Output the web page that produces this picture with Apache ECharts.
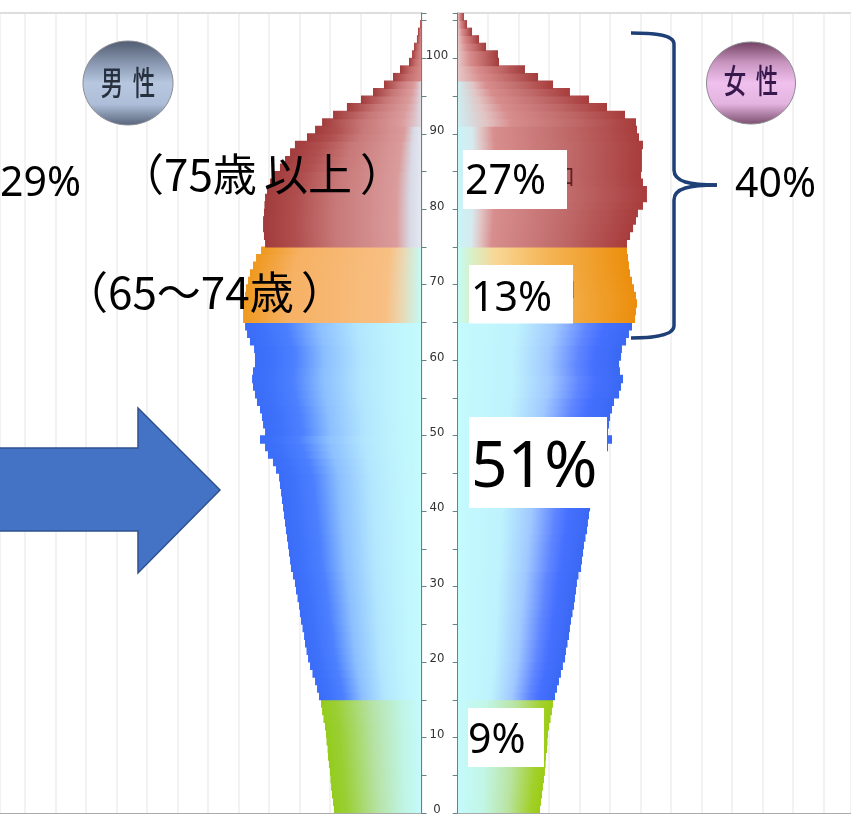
<!DOCTYPE html>
<html lang="ja">
<head>
<meta charset="utf-8">
<title>年齢別人口ピラミッド</title>
<script src="https://cdn.jsdelivr.net/npm/echarts@6/dist/echarts.min.js"></script>
<style>
  html, body { margin: 0; padding: 0; background: #fff; }
  #chart { width: 851px; height: 814px; }
</style>
</head>
<body>
<div id="chart"></div>
<script>
// Population by single year of age, 0 to 105 (index = age).
const male = [
  57.4, 58.0, 58.7, 59.3, 59.7, 60.0, 60.7, 61.3, 61.6, 62.3,
  62.6, 63.3, 64.3, 65.2, 65.9, 67.2, 68.5, 69.8, 71.5, 73.1,
  74.4, 75.4, 76.4, 77.0, 78.0, 79.0, 79.7, 80.3, 81.3, 82.3,
  83.0, 84.3, 85.6, 86.2, 86.9, 87.5, 88.2, 88.9, 89.5, 90.2,
  90.8, 91.5, 92.1, 92.8, 93.4, 95.4, 97.4, 100.7, 102.6, 105.9,
  102.6, 103.9, 104.6, 105.9, 107.9, 109.2, 110.5, 111.1, 110.5, 109.2,
  109.2, 109.8, 112.5, 114.4, 115.7, 117.0, 117.0, 116.4, 115.7, 115.1,
  113.8, 112.5, 110.5, 108.5, 105.2, 102.6, 103.3, 103.9, 103.9, 103.3,
  103.0, 102.6, 101.3, 99.3, 97.4, 92.8, 89.5, 86.2, 83.0, 75.1,
  69.8, 65.2, 58.0, 48.9, 39.7, 31.8, 24.6, 18.7, 14.1, 8.2,
  6.2, 4.9, 3.0, 2.3, 1.0, 0.3
];
const female = [
  54.0, 54.6, 55.3, 55.9, 56.6, 57.2, 57.6, 57.9, 58.6, 58.9,
  59.2, 59.9, 60.9, 61.8, 62.5, 63.8, 65.1, 66.4, 67.7, 69.0,
  70.4, 71.0, 72.0, 73.0, 73.6, 74.3, 75.3, 76.3, 76.9, 77.6,
  78.2, 79.2, 80.9, 81.5, 82.2, 82.8, 83.8, 84.8, 85.4, 86.1,
  86.8, 87.4, 88.7, 90.0, 91.3, 93.3, 95.3, 97.2, 98.6, 101.2,
  98.6, 99.2, 99.9, 101.2, 102.5, 105.8, 107.1, 108.4, 106.4, 105.8,
  107.1, 107.7, 110.4, 112.3, 114.3, 116.3, 116.9, 117.6, 116.9, 115.6,
  114.3, 113.0, 112.3, 111.7, 111.0, 111.0, 113.0, 115.0, 116.9, 118.2,
  121.5, 124.1, 124.1, 121.5, 120.2, 120.8, 120.8, 120.8, 121.5, 118.9,
  117.6, 116.9, 109.7, 97.9, 86.1, 73.6, 62.5, 52.7, 44.1, 27.1,
  26.4, 18.6, 14.0, 9.4, 6.1, 4.1
];
const ages = male.map((_, age) => String(age));

// Colour stops run from the axis side (offset 0) to the tip of each bar.
const maleStops = {
  child:  [[0, '#C4FAFC'], [0.2, '#C0F4E4'], [0.5, '#B6E2A4'], [0.85, '#9ACF34'], [1, '#94CC1C']],
  worker: [[0, '#C4FBFD'], [0.18, '#BEF3FD'], [0.36, '#B2E6FE'], [0.58, '#8CBFFF'], [0.76, '#4C80FF'], [0.9, '#3F72FB'], [1, '#3A6CF8']],
  young:  [[0, '#C4FBF6'], [0.12, '#ECD5AE'], [0.2, '#F8BF83'], [0.75, '#F6B164'], [1, '#EF981E']],
  old:    [[0, '#E4E8F2'], [0.07, '#D8DBE6'], [0.16, '#DB9C9C'], [0.55, '#C87878'], [0.8, '#B04E4E'], [1, '#A23C3C']],
  upper:  [[0, '#DDDDE6'], [0.1, '#DDB8BE'], [0.2, '#DB9C9C'], [0.6, '#C77676'], [1, '#A23C3C']],
  tip:    [[0, '#D88C8C'], [0.5, '#C46C6C'], [1, '#A23C3C']]
};
const femaleStops = {
  child:  [[0, '#C4FAFC'], [0.3, '#C2F6E6'], [0.6, '#BAE4A4'], [0.88, '#A2D02C'], [1, '#9CCC14']],
  worker: [[0, '#C4FBFD'], [0.34, '#BEF2FD'], [0.56, '#A0C8FF'], [0.74, '#5F85FF'], [0.84, '#4570FF'], [1, '#3A68F2']],
  young:  [[0, '#C4FBF6'], [0.08, '#D8F0C8'], [0.22, '#F8D796'], [0.5, '#F5B75A'], [1, '#EC8E0C']],
  old:    [[0, '#C8F4F8'], [0.08, '#D6EAEE'], [0.13, '#E2C4C4'], [0.2, '#D88E8E'], [0.6, '#C06A6A'], [1, '#A83C3C']],
  upper:  [[0, '#CDEEF2'], [0.16, '#E2C4C4'], [0.3, '#D88E8E'], [0.65, '#C06A6A'], [1, '#A83C3C']],
  tip:    [[0, '#E6C8C8'], [0.3, '#D88C8C'], [0.6, '#C46C6C'], [1, '#A23C3C']]
};

function ageGroup(age) {
  if (age < 15) return 'child';
  if (age < 65) return 'worker';
  if (age < 75) return 'young';
  if (age < 91) return 'old';
  if (age < 97) return 'upper';
  return 'tip';
}

// startX/endX point the gradient from the central axis towards the bar's tip.
function barData(values, palette, startX, endX) {
  return values.map((value, age) => ({
    value,
    itemStyle: {
      color: {
        type: 'linear', x: startX, y: 0, x2: endX, y2: 0,
        colorStops: palette[ageGroup(age)].map(([offset, color]) => ({ offset, color }))
      }
    }
  }));
}

const BLACK_FONT = '"Noto Sans", "Open Sans", sans-serif';
const CJK_FONT = '"Noto Sans CJK JP", sans-serif';

function whiteBox(x, y, w, h, z) {
  return { type: 'rect', z, shape: { x, y, width: w, height: h }, style: { fill: '#fff' } };
}
function label(text, x, y, size, z, family) {
  return {
    type: 'text', z, x, y,
    style: { text, fill: '#000', font: `${size}px ${family || BLACK_FONT}`, verticalAlign: 'bottom' }
  };
}
function badgeGlyph(text, cx, cy, fill) {
  return {
    type: 'text', z: 102, x: cx, y: cy, scaleX: 0.68,
    style: { text, fill, font: `500 33px ${CJK_FONT}`, align: 'center', verticalAlign: 'middle' }
  };
}
function badge(cx, cy, rx, ry, stops) {
  return {
    type: 'ellipse', z: 101,
    shape: { cx, cy, rx, ry },
    style: {
      stroke: '#8B8B93', lineWidth: 1,
      fill: {
        type: 'linear', x: 0, y: 0, x2: 0, y2: 1,
        colorStops: stops.map((color, i) => ({ offset: i / (stops.length - 1), color }))
      }
    }
  };
}
const braceStyle = { stroke: '#1F3F77', lineWidth: 3.5, fill: 'none' };
function braceCurve(x1, y1, cpx1, cpy1, cpx2, cpy2, x2, y2) {
  return { type: 'bezierCurve', z: 101, shape: { x1, y1, cpx1, cpy1, cpx2, cpy2, x2, y2 }, style: braceStyle };
}
function braceLine(x1, y1, x2, y2) {
  return { type: 'line', z: 101, shape: { x1, y1, x2, y2 }, style: braceStyle };
}

const rowTickColor = '#5F8585';
const gridLines = { show: true, lineStyle: { color: '#F2F2F2', width: 2 } };
const option = {
  animation: false,
  backgroundColor: '#fff',
  grid: [
    { left: 0, width: 421.5, top: 13, height: 800, outerBoundsMode: 'none' },
    { left: 457.7, width: 393.3, top: 13, height: 800, outerBoundsMode: 'none' }
  ],
  xAxis: [
    { type: 'value', gridIndex: 0, inverse: true, min: 0, max: 276.4, interval: 20, position: 'bottom',
      axisLine: { show: true, onZero: false, lineStyle: { color: '#AAAAAA' } }, axisTick: { show: false },
      axisLabel: { show: false }, splitLine: gridLines },
    { type: 'value', gridIndex: 1, min: 0, max: 257.9, interval: 20, position: 'bottom',
      axisLine: { show: true, onZero: false, lineStyle: { color: '#AAAAAA' } }, axisTick: { show: false },
      axisLabel: { show: false }, splitLine: gridLines },
    { type: 'value', gridIndex: 0, inverse: true, min: 0, max: 276.4, position: 'top',
      axisLine: { show: true, onZero: false, lineStyle: { color: '#DDDDDD', width: 2 } },
      axisTick: { show: false }, axisLabel: { show: false }, splitLine: { show: false } },
    { type: 'value', gridIndex: 1, min: 0, max: 257.9, position: 'top',
      axisLine: { show: true, onZero: false, lineStyle: { color: '#DDDDDD', width: 2 } },
      axisTick: { show: false }, axisLabel: { show: false }, splitLine: { show: false } }
  ],
  yAxis: [
    // Hidden age bands that carry the bars
    { type: 'category', gridIndex: 0, data: ages, position: 'right', show: false },
    { type: 'category', gridIndex: 1, data: ages, position: 'left', show: false },
    // Visible age scale running down the centre
    { type: 'value', gridIndex: 0, position: 'right', min: 0, max: 106, interval: 5,
      axisLine: { show: true, onZero: false, lineStyle: { color: rowTickColor } },
      axisTick: { show: true, length: 5, lineStyle: { color: rowTickColor } },
      axisLabel: { show: false }, splitLine: { show: false }, z: 5 },
    { type: 'value', gridIndex: 1, position: 'left', min: 0, max: 106, interval: 5,
      axisLine: { show: true, onZero: false, lineStyle: { color: rowTickColor } },
      axisTick: { show: true, length: 5, lineStyle: { color: rowTickColor } },
      axisLabel: {
        margin: 20.7, align: 'center', verticalAlign: 'bottom', lineHeight: 12, padding: [0, 0, -3, 0],
        color: '#333', fontFamily: '"Liberation Sans Narrow", "DejaVu Sans Condensed", sans-serif', fontSize: 13,
        formatter: v => (v % 10 === 0 ? String(v) : '')
      },
      splitLine: { show: false }, z: 5 }
  ],
  series: [
    // Bars are a little wider than their age band so neighbouring ages close up without hairlines
    { name: '男性', type: 'bar', xAxisIndex: 0, yAxisIndex: 0, barWidth: 8.5, barGap: 0,
      data: barData(male, maleStops, 1, 0) },
    { name: '女性', type: 'bar', xAxisIndex: 1, yAxisIndex: 1, barWidth: 8.5, barGap: 0,
      data: barData(female, femaleStops, 0, 1) }
  ],
  graphic: { elements: [
    // Leftovers of small captions peeking out from behind the white boxes
    { type: 'text', z: 99, x: 553, y: 165, style: { text: '口', fill: '#5E1F1F', font: `22px ${CJK_FONT}` } },
    { type: 'text', z: 99, x: 555, y: 278, style: { text: '口', fill: '#6E3A10', font: `21px ${CJK_FONT}` } },

    whiteBox(463, 150, 104, 59, 100),
    whiteBox(469, 265, 104, 58.5, 100),
    whiteBox(469, 417, 138, 91, 100),
    whiteBox(468, 708, 76, 59, 100),

    label('27%', 465, 203, 41, 101),
    label('13%', 471, 320, 41, 101),
    label('51%', 471, 501, 64, 101),
    label('9%', 468, 762, 41, 101),
    label('29%', 0, 205, 41, 101),
    label('40%', 735, 206, 41, 101),
    label('（75歳', 120, 196, 44, 101, CJK_FONT),
    label('以上', 264, 196, 44, 101, CJK_FONT),
    label('）', 360, 196, 44, 101, CJK_FONT),
    label('（65～74歳', 64, 314, 44, 101, CJK_FONT),
    label('）', 301, 314, 44, 101, CJK_FONT),

    // Brace spanning the over-65 bands
    braceCurve(631, 33, 650, 33, 674, 34, 674, 44),
    braceLine(674, 44, 674, 170),
    braceCurve(674, 170, 674, 182, 690, 185, 717, 185),
    braceCurve(717, 185, 690, 185, 674, 188, 674, 200),
    braceLine(674, 200, 674, 326),
    braceCurve(674, 326, 674, 336, 650, 338, 631, 338),

    // Arrow pointing at the working-age band
    {
      type: 'polygon', z: 101,
      shape: { points: [[-2, 448], [138, 448], [138, 408], [220, 490], [138, 573], [138, 531], [-2, 531]] },
      style: { fill: '#4472C4', stroke: '#2F528F', lineWidth: 1.5 }
    },

    badge(128, 83, 45, 42, ['#4F5B6F', '#8593AC', '#B7C7E0', '#AEBED8', '#56637A']),
    badgeGlyph('男', 112, 82, '#26303F'),
    badgeGlyph('性', 144, 82, '#26303F'),
    badge(751, 83, 44.5, 41, ['#6F4060', '#C794BE', '#F0C0EE', '#E4B4E0', '#7A4C6C']),
    badgeGlyph('女', 735, 80, '#36184C'),
    badgeGlyph('性', 767, 80, '#36184C')
  ] }
};

const chart = echarts.init(document.getElementById('chart'), null, { renderer: 'canvas' });
chart.setOption(option);
</script>
</body>
</html>
